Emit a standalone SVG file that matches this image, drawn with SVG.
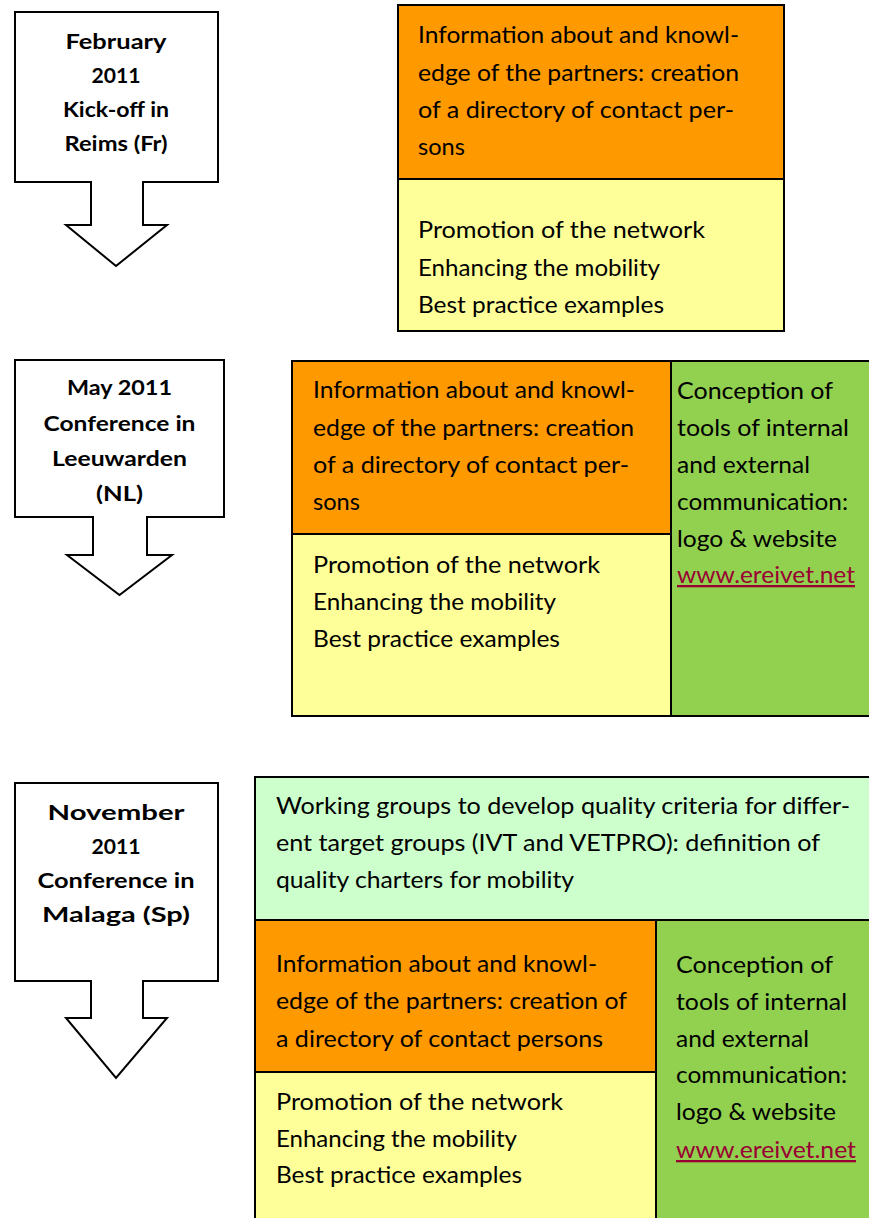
<svg xmlns="http://www.w3.org/2000/svg" width="869" height="1218" viewBox="0 0 869 1218">
<style>
.callout{fill:#fff;stroke:#000;stroke-width:2;stroke-linejoin:miter}
.box{stroke:#000;stroke-width:2}
.or{fill:#FF9900}.ye{fill:#FFFF99}.gr{fill:#92D050}.lg{fill:#CCFFCC}
.t{font-family:Lato,"Open Sans","Liberation Sans",sans-serif;font-size:23px;fill:#000}
.b{font-family:Lato,"Open Sans","Liberation Sans",sans-serif;font-size:21px;font-weight:bold;fill:#000;text-anchor:middle}
.lk{fill:#990033;text-decoration:underline}
</style>
<rect width="869" height="1218" fill="#fff"/>
<g id="connectors"/>
<g id="feb">
<path class="callout" d="M15,12 H218 V182 H143 V225 H167 L116,266 L66,225 H91 V182 H15 Z"/>
<text class="b" x="116" y="49" textLength="101" lengthAdjust="spacingAndGlyphs">February</text>
<text class="b" x="116" y="83" textLength="49" lengthAdjust="spacingAndGlyphs">2011</text>
<text class="b" x="116" y="117" textLength="106" lengthAdjust="spacingAndGlyphs">Kick-off in</text>
<text class="b" x="116" y="151" textLength="103" lengthAdjust="spacingAndGlyphs">Reims (Fr)</text>
</g>
<g id="phase1">
<rect class="box or" x="398" y="5" width="386" height="174"/>
<rect class="box ye" x="398" y="179" width="386" height="152"/>
<text class="t" x="418" y="43" textLength="321" lengthAdjust="spacingAndGlyphs">Information about and knowl-</text>
<text class="t" x="418" y="81" textLength="321" lengthAdjust="spacingAndGlyphs">edge of the partners: creation</text>
<text class="t" x="418" y="118" textLength="316" lengthAdjust="spacingAndGlyphs">of a directory of contact per-</text>
<text class="t" x="418" y="155" textLength="47" lengthAdjust="spacingAndGlyphs">sons</text>
<text class="t" x="418" y="238" textLength="287" lengthAdjust="spacingAndGlyphs">Promotion of the network</text>
<text class="t" x="418" y="276" textLength="242" lengthAdjust="spacingAndGlyphs">Enhancing the mobility</text>
<text class="t" x="418" y="313" textLength="246" lengthAdjust="spacingAndGlyphs">Best practice examples</text>
</g>
<g id="may">
<path class="callout" d="M15,360 H224 V517 H147 V555 H172 L119.5,595 L67,555 H93 V517 H15 Z"/>
<text class="b" x="119.5" y="395" textLength="105" lengthAdjust="spacingAndGlyphs">May 2011</text>
<text class="b" x="119.5" y="431" textLength="152" lengthAdjust="spacingAndGlyphs">Conference in</text>
<text class="b" x="119.5" y="466" textLength="135" lengthAdjust="spacingAndGlyphs">Leeuwarden</text>
<text class="b" x="119.5" y="501" textLength="47" lengthAdjust="spacingAndGlyphs">(NL)</text>
</g>
<g id="phase2">
<rect class="box or" x="292" y="361" width="379" height="173"/>
<rect class="box ye" x="292" y="534" width="379" height="182"/>
<rect class="box gr" x="671" y="361" width="200" height="355"/>
<text class="t" x="313" y="398" textLength="322" lengthAdjust="spacingAndGlyphs">Information about and knowl-</text>
<text class="t" x="313" y="436" textLength="321" lengthAdjust="spacingAndGlyphs">edge of the partners: creation</text>
<text class="t" x="313" y="473" textLength="316" lengthAdjust="spacingAndGlyphs">of a directory of contact per-</text>
<text class="t" x="313" y="510" textLength="47" lengthAdjust="spacingAndGlyphs">sons</text>
<text class="t" x="313" y="573" textLength="287" lengthAdjust="spacingAndGlyphs">Promotion of the network</text>
<text class="t" x="313" y="610" textLength="243" lengthAdjust="spacingAndGlyphs">Enhancing the mobility</text>
<text class="t" x="313" y="647" textLength="247" lengthAdjust="spacingAndGlyphs">Best practice examples</text>
<text class="t" x="677" y="399" textLength="156" lengthAdjust="spacingAndGlyphs">Conception of</text>
<text class="t" x="677" y="436" textLength="172" lengthAdjust="spacingAndGlyphs">tools of internal</text>
<text class="t" x="677" y="473" textLength="133" lengthAdjust="spacingAndGlyphs">and external</text>
<text class="t" x="677" y="510" textLength="171" lengthAdjust="spacingAndGlyphs">communication:</text>
<text class="t" x="677" y="547" textLength="160" lengthAdjust="spacingAndGlyphs">logo &amp; website</text>
<text class="t lk" x="677" y="583" textLength="178" lengthAdjust="spacingAndGlyphs">www.ereivet.net</text>
</g>
<g id="nov">
<path class="callout" d="M15,783 H218 V981 H143 V1018 H167 L116,1078 L66,1018 H91 V981 H15 Z"/>
<text class="b" x="116" y="820" textLength="137" lengthAdjust="spacingAndGlyphs">November</text>
<text class="b" x="116" y="854" textLength="49" lengthAdjust="spacingAndGlyphs">2011</text>
<text class="b" x="116" y="888" textLength="157" lengthAdjust="spacingAndGlyphs">Conference in</text>
<text class="b" x="116" y="922" textLength="148" lengthAdjust="spacingAndGlyphs">Malaga (Sp)</text>
</g>
<g id="phase3">
<rect class="box lg" x="255" y="777" width="616" height="143"/>
<rect class="box or" x="255" y="920" width="401" height="152"/>
<rect class="box ye" x="255" y="1072" width="401" height="150"/>
<rect class="box gr" x="656" y="920" width="215" height="302"/>
<text class="t" x="276" y="814" textLength="574" lengthAdjust="spacingAndGlyphs">Working groups to develop quality criteria for differ-</text>
<text class="t" x="276" y="851" textLength="544" lengthAdjust="spacingAndGlyphs">ent target groups (IVT and VETPRO): definition of</text>
<text class="t" x="276" y="888" textLength="298" lengthAdjust="spacingAndGlyphs">quality charters for mobility</text>
<text class="t" x="276" y="972" textLength="321" lengthAdjust="spacingAndGlyphs">Information about and knowl-</text>
<text class="t" x="276" y="1009" textLength="351" lengthAdjust="spacingAndGlyphs">edge of the partners: creation of</text>
<text class="t" x="276" y="1047" textLength="327" lengthAdjust="spacingAndGlyphs">a directory of contact persons</text>
<text class="t" x="276" y="1110" textLength="287" lengthAdjust="spacingAndGlyphs">Promotion of the network</text>
<text class="t" x="276" y="1147" textLength="241" lengthAdjust="spacingAndGlyphs">Enhancing the mobility</text>
<text class="t" x="276" y="1183" textLength="246" lengthAdjust="spacingAndGlyphs">Best practice examples</text>
<text class="t" x="676" y="973" textLength="157" lengthAdjust="spacingAndGlyphs">Conception of</text>
<text class="t" x="676" y="1010" textLength="171" lengthAdjust="spacingAndGlyphs">tools of internal</text>
<text class="t" x="676" y="1047" textLength="133" lengthAdjust="spacingAndGlyphs">and external</text>
<text class="t" x="676" y="1083" textLength="171" lengthAdjust="spacingAndGlyphs">communication:</text>
<text class="t" x="676" y="1120" textLength="160" lengthAdjust="spacingAndGlyphs">logo &amp; website</text>
<text class="t lk" x="676" y="1158" textLength="180" lengthAdjust="spacingAndGlyphs">www.ereivet.net</text>
</g>
</svg>
